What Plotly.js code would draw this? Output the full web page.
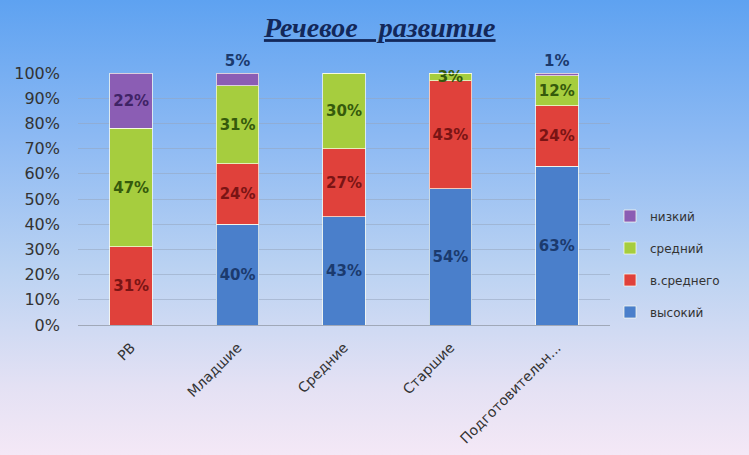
<!DOCTYPE html>
<html>
<head>
<meta charset="utf-8">
<script src="https://cdn.plot.ly/plotly-3.0.1.min.js"></script>
<style>
html,body{margin:0;padding:0;}
body{width:749px;height:455px;background:linear-gradient(to bottom,#5ea2f1 0%,#8cb9f3 30%,#bcd3f2 60%,#e4e1f4 85%,#f4e8f6 100%);}
#chart{width:749px;height:455px;}
</style>
</head>
<body>
<div id="chart"></div>
<script>
var categories = ['РВ', 'Младшие', 'Средние', 'Старшие', 'Подготовительн...'];
var seriesNames = ['высокий', 'в.среднего', 'средний', 'низкий'];
var vysokiy = [0, 40, 43, 54, 63];
var vSrednego = [31, 24, 27, 43, 24];
var sredniy = [47, 31, 30, 3, 12];
var nizkiy = [22, 5, 0, 0, 1];
var yTicks = [0, 10, 20, 30, 40, 50, 60, 70, 80, 90, 100];

var colors = ['#4a7fcb', '#e0413b', '#a6cd3e', '#8b5db4'];
var textColors = ['#1b3a6e', '#7a1414', '#355a0c', '#3f2366'];
var allValues = [vysokiy, vSrednego, sredniy, nizkiy];

var traces = allValues.map(function(vals, i){
  return {
    type: 'bar',
    name: seriesNames[i],
    legendgroup: 'g' + i,
    legendrank: 10 - i,
    x: categories,
    y: vals,
    text: vals.map(function(v){ return v > 0 ? v + '%' : ''; }),
    textposition: vals.map(function(v){ return (i === 3 && v > 0 && v < 10) ? 'outside' : 'inside'; }),
    insidetextanchor: 'middle',
    constraintext: 'none',
    textangle: 0,
    textfont: {family: 'DejaVu Sans', size: 15, weight: 'bold', color: textColors[i]},
    outsidetextfont: {family: 'DejaVu Sans', size: 15, weight: 'bold', color: '#1b3a6e'},
    hoverinfo: 'none',
    cliponaxis: false,
    marker: {color: colors[i], line: {color: 'rgba(255,255,240,0.7)', width: 1}}
  };
});

var layout = {
  width: 749, height: 455,
  paper_bgcolor: 'rgba(0,0,0,0)',
  plot_bgcolor: 'rgba(0,0,0,0)',
  margin: {l: 78, r: 139, t: 73, b: 130},
  barmode: 'stack',
  bargap: 0.6,
  showlegend: true,
  title: {
    text: '<b><i>Речевое   развитие</i></b>',
    font: {family: 'Liberation Serif', size: 28, color: '#13285a', lineposition: 'under'},
    x: 0.507, xanchor: 'center', xref: 'container',
    y: 0.94, yanchor: 'middle', yref: 'container'
  },
  xaxis: {
    tickangle: -45,
    tickfont: {family: 'DejaVu Sans', size: 14, color: '#333333'},
    ticklabelstandoff: 8,
    showline: true, linecolor: '#a0a8b8', linewidth: 1,
    ticks: '', showgrid: false
  },
  yaxis: {
    range: [0, 100],
    tickvals: yTicks,
    ticktext: yTicks.map(function(v){ return v + '%'; }),
    tickfont: {family: 'DejaVu Sans', size: 16, color: '#333333'},
    ticklabelstandoff: 17,
    showgrid: true, gridcolor: 'rgba(150,165,190,0.55)', gridwidth: 1,
    zeroline: false, showline: false, ticks: ''
  },
  legend: {
    x: 1.0, xanchor: 'left', y: 0.49, yanchor: 'top',
    traceorder: 'grouped',
    tracegroupgap: 13,
    font: {family: 'DejaVu Sans', size: 12, color: '#333333'},
    bgcolor: 'rgba(0,0,0,0)',
    itemwidth: 30
  }
};

Plotly.newPlot('chart', traces, layout, {displayModeBar: false, staticPlot: true});
</script>
</body>
</html>
